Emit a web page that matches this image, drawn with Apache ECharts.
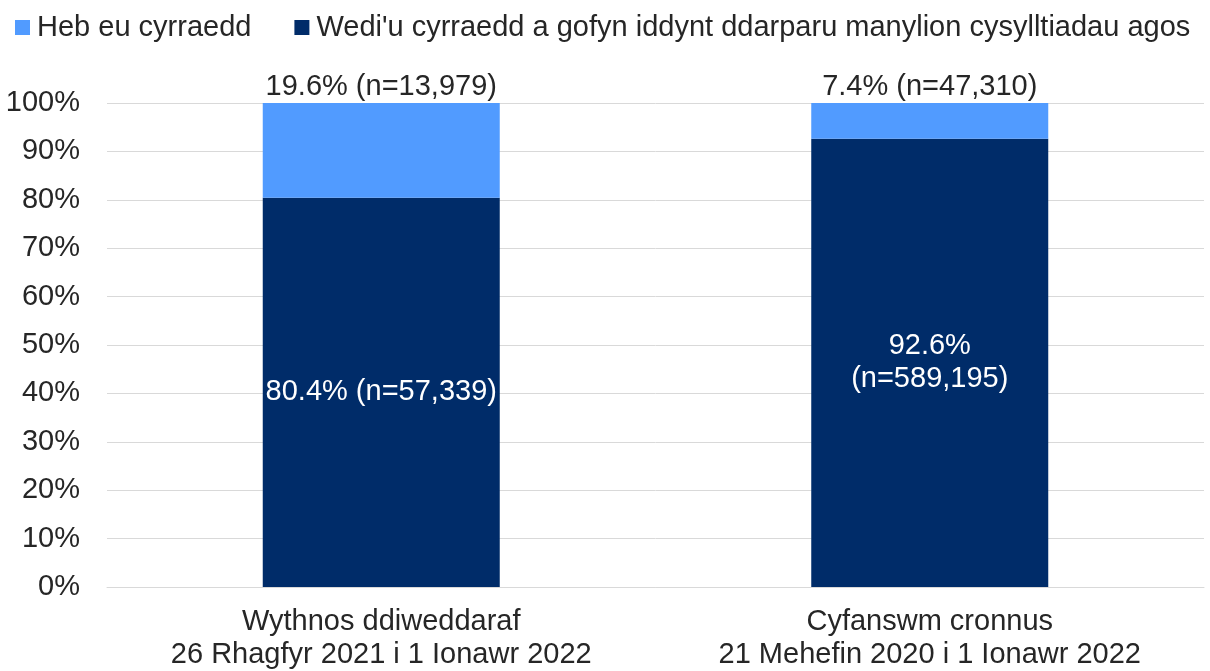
<!DOCTYPE html>
<html>
<head>
    <meta charset="utf-8">
    <title>ECharts</title>
    <script src="https://cdn.jsdelivr.net/npm/echarts@6/dist/echarts.min.js"></script>
    <style>
        html, body { margin: 0; padding: 0; background: #fff; }
    </style>
</head>
<body>
	<div id="main" style="width: 1210px;height:671px;"></div>
	<script type="text/javascript">
	  var categories = ['Wythnos ddiweddaraf\n26 Rhagfyr 2021 i 1 Ionawr 2022', 'Cyfanswm cronnus\n21 Mehefin 2020 i 1 Ionawr 2022'];
	  var seriesNames = ['Heb eu cyrraedd', "Wedi'u cyrraedd a gofyn iddynt ddarparu manylion cysylltiadau agos"];
	  var reachedPct = [80.4, 92.6];
	  var reachedN = [57339, 589195];
	  var notReachedPct = [19.6, 7.4];
	  var notReachedN = [13979, 47310];
	  var yTicks = ['0%', '10%', '20%', '30%', '40%', '50%', '60%', '70%', '80%', '90%', '100%'];

	  var fontFamily = '"Liberation Sans", Arial, sans-serif';
	  var textColor = '#262626';
	  var fs = 29;

	  function fmtN(n) {
		return n.toString().replace(/\B(?=(\d{3})+(?!\d))/g, ',');
	  }

	  var myChart = echarts.init(document.getElementById('main'));
	  var option = {
		animation: false,
		textStyle: { fontFamily: fontFamily },
		legend: {
		  left: 10,
		  top: 8,
		  itemWidth: 15,
		  itemHeight: 15,
		  itemGap: 43,
		  icon: 'rect',
		  textStyle: { fontSize: fs, color: textColor, fontFamily: fontFamily, padding: [0, 0, 0, 2] },
		  data: [seriesNames[0], seriesNames[1]]
		},
		grid: {
		  left: 107,
		  right: 6,
		  top: 103,
		  bottom: 81
		},
		xAxis: {
		  type: 'category',
		  data: categories,
		  axisTick: { show: false },
		  axisLine: { lineStyle: { color: '#d9d9d9' } },
		  axisLabel: {
			interval: 0,
			hideOverlap: false,
			fontSize: fs,
			lineHeight: 33,
			color: textColor,
			margin: 18,
			fontFamily: fontFamily
		  }
		},
		yAxis: {
		  type: 'value',
		  min: 0,
		  max: 100,
		  interval: 10,
		  axisLine: { show: false },
		  axisTick: { show: false },
		  splitLine: { lineStyle: { color: '#d9d9d9' } },
		  axisLabel: {
			fontSize: fs,
			color: textColor,
			margin: 27,
			fontFamily: fontFamily,
			formatter: function (v) { return yTicks[v / 10]; }
		  }
		},
		series: [
		  {
			name: seriesNames[1],
			type: 'bar',
			stack: 'total',
			barWidth: 237,
			itemStyle: { color: '#002c69' },
			label: {
			  show: true,
			  position: 'inside',
			  color: '#ffffff',
			  fontSize: fs,
			  lineHeight: 33,
			  fontFamily: fontFamily,
			  formatter: function (p) {
				var sep = p.dataIndex === 1 ? '\n' : ' ';
				return reachedPct[p.dataIndex].toFixed(1) + '%' + sep + '(n=' + fmtN(reachedN[p.dataIndex]) + ')';
			  }
			},
			data: reachedPct
		  },
		  {
			name: seriesNames[0],
			type: 'bar',
			stack: 'total',
			barWidth: 237,
			itemStyle: { color: '#519bff' },
			label: {
			  show: true,
			  position: 'top',
			  distance: 2,
			  color: textColor,
			  fontSize: fs,
			  fontFamily: fontFamily,
			  formatter: function (p) {
				return notReachedPct[p.dataIndex].toFixed(1) + '% (n=' + fmtN(notReachedN[p.dataIndex]) + ')';
			  }
			},
			data: notReachedPct
		  }
		]
	  };
	  myChart.setOption(option);
	</script>
</body>
</html>
